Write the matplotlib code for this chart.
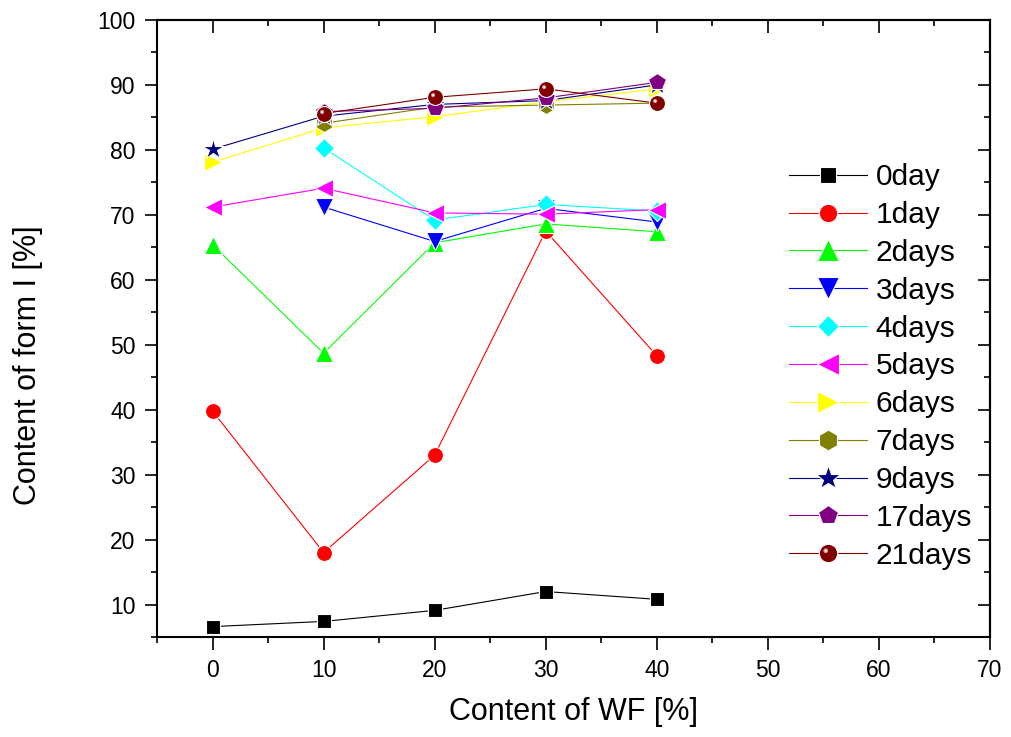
import matplotlib
matplotlib.use("Agg")
import matplotlib.pyplot as plt
import numpy as np
from matplotlib.path import Path
from matplotlib.ticker import MultipleLocator, NullFormatter
from matplotlib.legend_handler import HandlerTuple

plt.rcParams["font.family"] = ["Liberation Sans", "DejaVu Sans"]

# WF content (%) and form I content (%) after each storage time
wf = [0, 10, 20, 30, 40]
wf_from10 = [10, 20, 30, 40]

day0 = [6.6, 7.4, 9.1, 12.0, 10.8]
day1 = [39.8, 18.0, 33.0, 67.5, 48.3]
day2 = [65.4, 48.7, 65.7, 68.6, 67.4]
day3 = [71.2, 65.9, 71.0, 68.9]
day4 = [80.3, 69.2, 71.6, 70.6]
day5 = [71.2, 74.1, 70.3, 70.1, 70.8]
day6 = [78.1, 83.4, 85.1, 87.4, 89.4]
day7 = [84.1, 86.6, 86.9, 87.2]
day9 = [80.1, 85.2, 87.0, 87.6, 90.0]
day17 = [85.9, 86.4, 88.0, 90.4]
day21 = [85.6, 88.1, 89.4, 87.2]

series = [
    ("0day", wf, day0, "#000000", "s", 10),
    ("1day", wf, day1, "#FF0000", "o", 11.5),
    ("2days", wf, day2, "#00FF00", "^", 13.5),
    ("3days", wf_from10, day3, "#0000FF", "v", 13.5),
    ("4days", wf_from10, day4, "#00FFFF", "D", 10),
    ("5days", wf, day5, "#FF00FF", "<", 13.5),
    ("6days", wf, day6, "#FFFF00", ">", 13.5),
    ("7days", wf_from10, day7, "#808000", "h", 13),
    ("9days", wf, day9, "#000080", "*", 16),
    ("17days", wf_from10, day17, "#800080", "p", 13),
    ("21days", wf_from10, day21, "#800000", "o", 11.5),
]


def shine_marker(radius):
    # glossy spot in the upper left of a sphere marker; the two stray
    # MOVETO corners keep the spot's offset after marker rescaling
    spot = Path.circle(center=(-0.3, 0.3), radius=radius)
    verts = np.vstack([spot.vertices, [[1, 1], [-1, -1]]])
    codes = np.concatenate([spot.codes, [Path.MOVETO, Path.MOVETO]])
    return Path(verts, codes)


fig = plt.figure(figsize=(10.11, 7.37), dpi=100)
ax = fig.add_axes([157 / 1011, 100 / 737, 833 / 1011, 617 / 737])

handles = []
labels = []
for name, xs, ys, color, marker, ms in series:
    line, = ax.plot(xs, ys, color=color, linewidth=0.8, marker=marker,
                    markersize=ms, markerfacecolor=color,
                    markeredgecolor="white", markeredgewidth=0.8)
    if name == "21days":
        glow, = ax.plot(xs, ys, linestyle="none", marker=shine_marker(0.26),
                        markersize=ms, markerfacecolor="#d89a9a",
                        markeredgewidth=0)
        spot, = ax.plot(xs, ys, linestyle="none", marker=shine_marker(0.12),
                        markersize=ms, markerfacecolor="#ffffff",
                        markeredgewidth=0)
        handles.append((line, glow, spot))
    else:
        handles.append(line)
    labels.append(name)

ax.set_xlim(-5, 70)
ax.set_ylim(5, 100)
ax.xaxis.set_major_locator(MultipleLocator(10))
ax.xaxis.set_minor_locator(MultipleLocator(5))
ax.yaxis.set_major_locator(MultipleLocator(10))
ax.yaxis.set_minor_locator(MultipleLocator(5))
ax.set_yticks([10, 20, 30, 40, 50, 60, 70, 80, 90, 100])

for side in ax.spines.values():
    side.set_linewidth(1.5)

ax.tick_params(which="both", direction="out", width=1.2, labelsize=16.5,
               pad=6.5, top=False, right=False)
ax.tick_params(which="major", length=9)
ax.tick_params(which="minor", length=4.5)

# inward ticks on the top and right frame
top = ax.secondary_xaxis("top")
top.xaxis.set_major_locator(MultipleLocator(10))
top.xaxis.set_minor_locator(MultipleLocator(5))
top.xaxis.set_major_formatter(NullFormatter())
top.tick_params(which="both", direction="in", width=1.2)
top.tick_params(which="major", length=9)
top.tick_params(which="minor", length=4.5)
top.spines["top"].set_linewidth(1.5)

right = ax.secondary_yaxis("right")
right.yaxis.set_major_locator(MultipleLocator(10))
right.yaxis.set_minor_locator(MultipleLocator(5))
right.yaxis.set_major_formatter(NullFormatter())
right.tick_params(which="both", direction="in", width=1.2)
right.tick_params(which="major", length=9)
right.tick_params(which="minor", length=4.5)
right.spines["right"].set_linewidth(1.5)

ax.set_xlabel("Content of WF [%]", fontsize=22)
ax.set_ylabel("Content of form I [%]", fontsize=22)
ax.xaxis.set_label_coords(0.5, -0.097)
ax.yaxis.set_label_coords(-0.137, 0.44)

ax.legend(handles, labels, handler_map={tuple: HandlerTuple(ndivide=1)},
          loc="upper left", bbox_to_anchor=(0.7587, 0.768), frameon=False,
          fontsize=21.5, handlelength=2.6, handletextpad=0.3,
          labelspacing=0.33, borderpad=0, borderaxespad=0, markerscale=1.15)

fig.savefig("out.png", dpi=100)
